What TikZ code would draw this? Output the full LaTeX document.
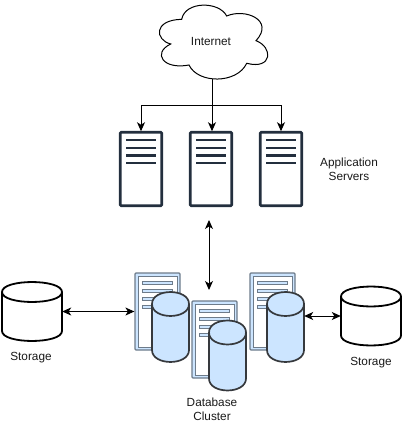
\documentclass[tikz,border=0pt]{standalone}
\usepackage{fontspec}
\setmainfont{Liberation Sans}
\usetikzlibrary{arrows.meta}
\definecolor{srv}{HTML}{232F3E}
\definecolor{dbfill}{HTML}{CCE5FF}
\definecolor{dbline}{HTML}{36393D}
\definecolor{docline}{HTML}{6D7B8A}
\tikzset{
  x=1pt,y=-1pt,
  lbl/.style={font=\fontsize{11.8}{14}\selectfont,align=center,text=black!90,inner sep=0},
  conn/.style={line width=1pt,-{Stealth[length=9pt,width=8pt,inset=2.5pt]}},
  biconn/.style={line width=1pt,{Stealth[length=9pt,width=8pt,inset=2.5pt]}-{Stealth[length=9pt,width=8pt,inset=2.5pt]}},
  srvbox/.style={draw=srv,line width=2.6pt,rounded corners=1pt,fill=white,minimum width=41.5pt,minimum height=73.5pt,inner sep=0,outer sep=1pt},
  srvline/.style={draw=srv,line width=2.4pt},
  cyl/.style={line width=1.8pt,draw=black,fill=white},
  dbcyl/.style={line width=1.7pt,draw=dbline,fill=dbfill},
  docouter/.style={draw=docline,line width=1.2pt,fill=dbfill,rounded corners=1pt},
  docinner/.style={draw=docline,line width=1pt,fill=white},
  docbar/.style={draw=docline,line width=.9pt,fill=dbfill},
}
\newcommand{\cylinder}[7]{%
  \path[#7] (#2,#3+#6) .. controls (#2,#3-#6*0.33) and (#2+#4,#3-#6*0.33) .. (#2+#4,#3+#6)
     -- (#2+#4,#3+#5-#6) .. controls (#2+#4,#3+#5+#6*0.33) and (#2,#3+#5+#6*0.33) .. (#2,#3+#5-#6) -- cycle;
  \path[#7,fill=none] (#2,#3+#6) .. controls (#2,#3+#6*2.33) and (#2+#4,#3+#6*2.33) .. (#2+#4,#3+#6);
  \node[inner sep=0,minimum width=#4 pt,minimum height=#5 pt] (#1) at (#2+#4/2,#3+#5/2) {};
}
\newcommand{\srvnode}[2]{%
  \node[srvbox] (#1) at (#2,169) {};
  \foreach \yy in {140,147.7,155.3,163} \draw[srvline] (#2-14.7,\yy) -- (#2+14.7,\yy);
}
\newcommand{\docnode}[3]{%
  \node[docouter,minimum width=45pt,minimum height=77pt,inner sep=0] (#1) at (#2+22.5,#3+38.5) {};
  \path[docinner] (#2+3,#3+3) rectangle (#2+42,#3+74);
  \foreach \yy in {8,16,24,32} \path[docbar] (#2+7.5,#3+\yy) rectangle (#2+37.5,#3+\yy+3);
}
\begin{document}
\begin{tikzpicture}
\useasboundingbox (0,0) rectangle (403,423);
% cloud
\draw[line width=1pt,fill=white]
 (170.7,44) .. controls (155,40) and (153,20) .. (181.7,19.3)
 .. controls (185,1) and (219,1) .. (226.7,16)
 .. controls (245,8) and (275,20) .. (256,40.7)
 .. controls (273,47) and (273,70) .. (246.7,63.3)
 .. controls (237,84) and (198,84) .. (189,65)
 .. controls (163,70) and (152,53) .. (170.7,44) -- cycle;
\node[inner sep=0,minimum width=104pt,minimum height=72pt] (cloud) at (212,43) {};
\node[lbl] (inet) at (211,41) {Internet};
% servers
\srvnode{s1}{141}
\srvnode{s2}{211}
\srvnode{s3}{281}
\coordinate (junction) at (212,105);
\draw[line width=1pt] (cloud.south -| junction) -- (junction);
\draw[conn] (junction) -- (s2.north -| junction);
\draw[conn] (junction) -| (s1.north);
\draw[conn] (junction) -| (s3.north);
\node[lbl] (apptxt) at (349,169.5) {Application\\Servers};
% db cluster
\docnode{d1}{135}{273}
\cylinder{c1}{152}{292}{37}{70}{12}{dbcyl}
\docnode{d3}{250}{273}
\cylinder{c3}{267}{292}{37}{70}{12}{dbcyl}
\docnode{d2}{192}{301}
\cylinder{c2}{209}{320.5}{37}{70}{12}{dbcyl}
\node[lbl] (dbtxt) at (212,409) {Database\\Cluster};
% storage
\cylinder{st1}{2}{282}{60}{59}{10}{cyl}
\cylinder{st2}{341}{286.5}{60}{59}{10}{cyl}
\node[lbl] (stl) at (31,357.5) {Storage};
\node[lbl] (str) at (371,362.5) {Storage};
% connectors
\coordinate (vt) at (209,220);
\coordinate (vb) at (209,290);
\draw[biconn] (vt) -- (vb);
\draw[biconn] (st1.east) -- (st1.east -| d1.west);
\draw[biconn] (c3.east |- st2.west) -- (st2.west);
\end{tikzpicture}
\end{document}
